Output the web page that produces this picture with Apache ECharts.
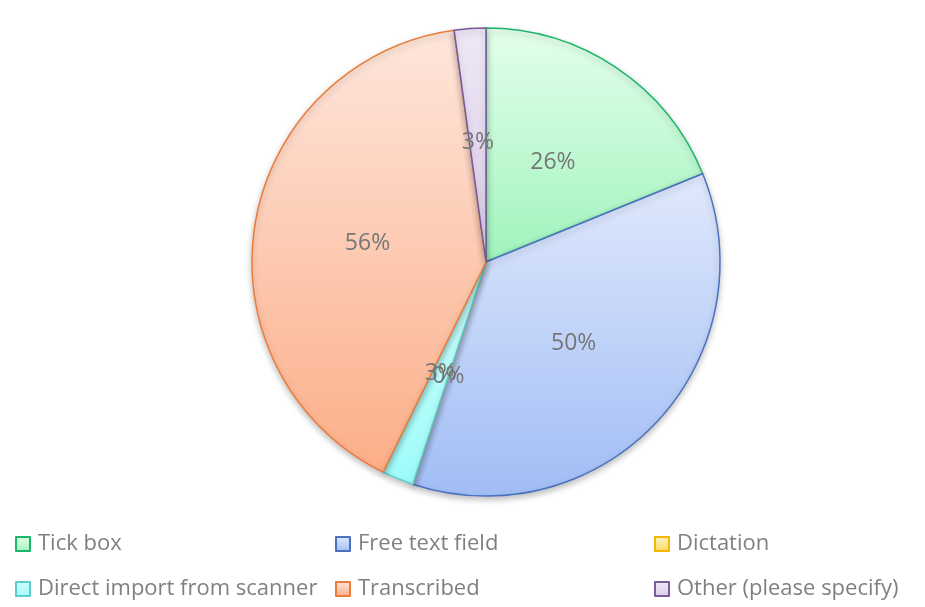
<!DOCTYPE html>
<html><head><meta charset="utf-8">
<script src="https://cdn.jsdelivr.net/npm/echarts@6/dist/echarts.min.js"></script>
<style>html,body{margin:0;padding:0;background:#fff}#c{width:925px;height:607px}</style>
</head><body><div id="c"></div>
<script>
const categories = ['Tick box','Free text field','Dictation','Direct import from scanner','Transcribed','Other (please specify)'];
const values = [26, 50, 0, 3, 56, 3];
const topColors = ['#e4ffeb','#e0e9fc','#fff2c4','#d3fefd','#fee6dc','#efe7f6'];
const bottomColors = ['#a0f3bd','#a1bdf5','#ffd966','#9dfcf9','#fcae88','#dacdea'];
const borderColors = ['#1cb66a','#4a72c0','#f5b800','#5ccccc','#ec7c3a','#7a5a9a'];
const legendPos = [[15,531],[335,531],[654,531],[15,576],[335,576],[654,576]];

const font = '"Open Sans", "Noto Sans", sans-serif';
const data = categories.map((n,i)=>({
  name:n, value:values[i],
  itemStyle:{
    color:new echarts.graphic.LinearGradient(0,0,0,1,[{offset:0,color:topColors[i]},{offset:1,color:bottomColors[i]}]),
    borderColor:borderColors[i], borderWidth:1.5
  }
}));
const legends = categories.map((n,i)=>({
  data:[n], left:legendPos[i][0], top:legendPos[i][1], icon:'rect', padding:0,
  itemWidth:14, itemHeight:14, selectedMode:false,
  textStyle:{fontFamily:font, fontSize:22, color:'#808080', lineHeight:26, padding:[0,0,0,3]}
}));
const chart = echarts.init(document.getElementById('c'));
chart.setOption({
  animation:false,
  legend:legends,
  series:[{
    type:'pie', center:[486,262], radius:[0,234], startAngle:90, clockwise:true,
    avoidLabelOverlap:false, labelLayout:{hideOverlap:false},
    label:{show:true, position:'inside', formatter:p=>p.value+'%', fontFamily:font, fontSize:23, color:'#767676'},
    labelLine:{show:false},
    emphasis:{disabled:true},
    itemStyle:{shadowBlur:6, shadowOffsetY:3, shadowColor:'rgba(0,0,0,0.25)'},
    data:data
  }]
});
</script></body></html>
